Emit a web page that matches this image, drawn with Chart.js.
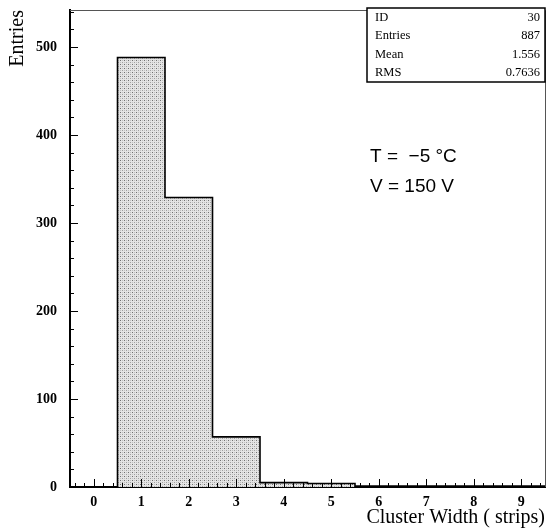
<!DOCTYPE html>
<html><head><meta charset="utf-8">
<script src="https://cdn.jsdelivr.net/npm/chart.js@4/dist/chart.umd.min.js"></script>
<style>html,body{margin:0;padding:0;background:#fff}#wrap{width:547px;height:531px;position:relative}</style>
</head><body><div id="wrap"><canvas id="c"></canvas></div>
<script>
// ---- data ----
const binCenters = [0, 1, 2, 3, 4, 5, 6, 7, 8, 9];
const binCounts  = [0, 488, 329, 57, 5, 4, 1, 1, 1, 1];
const xTickLabels = [0, 1, 2, 3, 4, 5, 6, 7, 8, 9];
const yTickLabels = [0, 100, 200, 300, 400, 500];
const statsNames  = ['ID', 'Entries', 'Mean', 'RMS'];
const statsValues = ['30', '887', '1.556', '0.7636'];
const noteLines   = ['T =  \u22125 \u00B0C', 'V = 150 V'];
const xTitle = 'Cluster Width ( strips)';
const yTitle = 'Entries';

// outline points at bin edges (stepped)
const outline = binCenters.map((c, i) => ({x: c - 0.5, y: binCounts[i]}));
outline.push({x: binCenters[binCenters.length - 1] + 0.5, y: binCounts[binCounts.length - 1]});

// dotted fill pattern
function makePattern() {
  const p = document.createElement('canvas');
  p.width = 4; p.height = 4;
  const g = p.getContext('2d');
  g.fillStyle = '#e4e4e4'; g.fillRect(0, 0, 4, 4);
  g.fillStyle = '#707070'; g.fillRect(0, 0, 1, 1);
  g.fillStyle = '#a0a0a0'; g.fillRect(2, 2, 1, 1);
  g.fillStyle = '#c0c0c0'; g.fillRect(2, 0, 1, 1); g.fillRect(0, 2, 1, 1);
  return document.getElementById('c').getContext('2d').createPattern(p, 'repeat');
}

const serifBold = {family: '"Liberation Serif", "DejaVu Serif", serif', size: 14, weight: 'bold'};
const serifTitle = {family: '"Liberation Serif", "DejaVu Serif", serif', size: 20, weight: 'normal'};

const decor = {
  id: 'decor',
  afterDatasetsDraw(chart) {
    const {ctx, chartArea: a, scales: {x, y}} = chart;
    ctx.save();
    // frame top & right
    ctx.strokeStyle = '#555'; ctx.lineWidth = 1;
    ctx.beginPath();
    ctx.moveTo(a.left, a.top + 0.5); ctx.lineTo(a.right + 0.5, a.top + 0.5); ctx.lineTo(a.right + 0.5, a.bottom);
    ctx.stroke();
    // inward ticks
    ctx.strokeStyle = '#000'; ctx.lineWidth = 1;
    ctx.beginPath();
    for (let k = 0; ; k++) {
      const v = x.min + 0.1 + k * 0.2;
      if (v > x.max) break;
      const px = Math.round(x.getPixelForValue(v)) + 0.5;
      const major = Math.abs(v - Math.round(v)) < 1e-6;
      ctx.moveTo(px, a.bottom); ctx.lineTo(px, a.bottom - (major ? 8 : 4));
    }
    for (let v = 0; v <= y.max; v += 20) {
      const py = Math.round(y.getPixelForValue(v)) + 0.5;
      const major = v % 100 === 0;
      ctx.moveTo(a.left, py); ctx.lineTo(a.left + (major ? 8 : 4), py);
    }
    ctx.stroke();
    // stats box
    const bx = 367, by = 8, bw = a.right - 367, rowH = 18.5;
    const bh = rowH * statsNames.length;
    ctx.fillStyle = '#fff';
    ctx.fillRect(bx, by, bw, bh);
    ctx.strokeStyle = '#000'; ctx.lineWidth = 1.5;
    ctx.strokeRect(bx, by, bw, bh);
    ctx.fillStyle = '#000';
    ctx.font = '12.5px "Liberation Serif", serif';
    ctx.textBaseline = 'middle';
    statsNames.forEach((n, i) => {
      const cy = by + rowH * (i + 0.5);
      ctx.textAlign = 'left'; ctx.fillText(n, bx + 8, cy);
      ctx.textAlign = 'right'; ctx.fillText(statsValues[i], bx + bw - 5, cy);
    });
    // notes
    ctx.font = '19px "Liberation Sans", Arial, sans-serif';
    ctx.textAlign = 'left';
    noteLines.forEach((t, i) => ctx.fillText(t, 370, 157 + i * 30));
    ctx.restore();
  }
};

new Chart(document.getElementById('c'), {
  type: 'line',
  data: {
    datasets: [{
      data: outline,
      stepped: true,
      fill: 'origin',
      backgroundColor: makePattern(),
      borderColor: '#000',
      borderWidth: 1.6,
      pointRadius: 0,
      tension: 0
    }]
  },
  options: {
    responsive: true,
    maintainAspectRatio: false,
    animation: false,
    events: [],
    layout: {padding: {top: 10, right: 2, left: 0, bottom: 0}},
    plugins: {legend: {display: false}, tooltip: {enabled: false}},
    scales: {
      x: {
        type: 'linear', min: -0.5, max: 9.5,
        afterBuildTicks: s => { s.ticks = xTickLabels.map(v => ({value: v})); },
        afterFit: s => { s.height = 44; s.paddingLeft = 0; s.paddingRight = 0; },
        grid: {display: false, drawTicks: false},
        border: {display: true, color: '#000', width: 2},
        ticks: {font: serifBold, color: '#000', padding: 7, maxRotation: 0, autoSkip: false,
                callback: v => String(v)},
        title: {display: true, text: xTitle, align: 'end', font: serifTitle, color: '#000', padding: {top: 0, bottom: 1}}
      },
      y: {
        type: 'linear', min: 0, max: 542,
        afterBuildTicks: s => { s.ticks = yTickLabels.map(v => ({value: v})); },
        afterFit: s => { s.width = 70; s.paddingTop = 0; s.paddingBottom = 0; },
        grid: {display: false, drawTicks: false},
        border: {display: true, color: '#000', width: 2},
        ticks: {font: serifBold, color: '#000', padding: 13, callback: v => String(v)},
        title: {display: true, text: yTitle, align: 'end', font: serifTitle, color: '#000', padding: {top: 6, bottom: 0}}
      }
    }
  },
  plugins: [decor]
});
</script>
</body></html>
